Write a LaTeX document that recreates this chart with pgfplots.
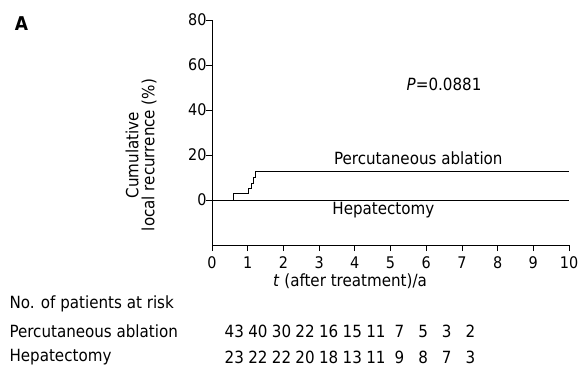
\documentclass[border=0pt]{standalone}
\usepackage{pgfplots}
\pgfplotsset{compat=1.18}
\usepackage{fontspec}
\setmainfont{DejaVu Sans Condensed}
\newcommand{\fs}{\fontsize{16.8}{17}\selectfont}
\begin{document}
\begin{tikzpicture}[x=1pt,y=1pt]
\useasboundingbox (0,0) rectangle (588,-370);
\begin{axis}[
  at={(212pt,-245pt)},
  scale only axis, width=357pt, height=225pt,
  anchor=south west,
  xmin=0, xmax=10, ymin=-20, ymax=80,
  axis lines*=left,
  axis line style={line width=0.8pt},
  tick align=outside,
  major tick length=6pt,
  tick style={line width=0.7pt, black},
  xtick={0,1,...,10}, ytick={0,20,40,60,80},
  /pgf/number format/assume math mode=true,
  ticklabel style={font=\fontsize{16}{16}\selectfont},
  xticklabel style={yshift=-2pt},
  yticklabel style={xshift=4pt},
  clip=false,
]
\addplot[black, line width=0.7pt, const plot] coordinates {
  (0,0) (0.6,2.9) (1.02,5.2) (1.1,7.5) (1.16,10) (1.22,12.9) (10,12.9)
};
\addplot[black, line width=0.7pt] coordinates {(0,0) (10,0)};
\node[font=\fs] at (axis cs:5.78,18.6) {Percutaneous ablation};
\node[font=\fs] at (axis cs:4.8,-4.6) {Hepatectomy};
\node[font=\fs] at (axis cs:6.5,51.5) {\textit{P}=0.0881};
\end{axis}
\node[font=\bfseries\fontsize{19}{19}\selectfont] at (21.5,-24) {A};
\node[rotate=90, align=center, font=\fontsize{16.8}{16}\selectfont] at (141,-155) {Cumulative\\local recurrence (\%)};
\node[font=\fs] at (350,-281) {\textit{t} (after treatment)/a};
\node[anchor=west, font=\fs] at (6,-304) {No. of patients at risk};
\node[anchor=west, font=\fs] at (6,-331) {Percutaneous ablation};
\node[anchor=west, font=\fs] at (6,-357) {Hepatectomy};
\foreach \v [count=\i from 0] in {43,40,30,22,16,15,11,7,5,3,2}
  \node[font=\fs] at ({234.3+23.6*\i},-331) {\v};
\foreach \v [count=\i from 0] in {23,22,22,20,18,13,11,9,8,7,3}
  \node[font=\fs] at ({234.3+23.6*\i},-357) {\v};
\end{tikzpicture}
\end{document}
